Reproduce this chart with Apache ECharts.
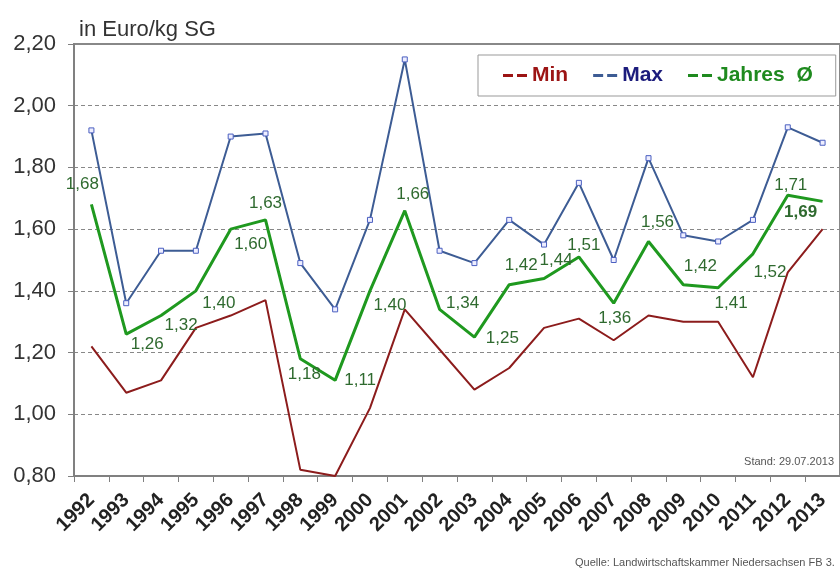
<!DOCTYPE html>
<html>

<head>
    <meta charset="UTF-8">
    <title>Schweinepreise Min / Max / Jahresdurchschnitt</title>
    <script src="https://cdn.jsdelivr.net/npm/echarts@6/dist/echarts.min.js"></script>
    <style>
        html, body { margin: 0; padding: 0; background: #fff; }
    </style>
</head>

<body>
    <div id="PreisContainer" style="width: 840px; height: 570px;"></div>

    <script>
        var years = ['1992', '1993', '1994', '1995', '1996', '1997', '1998', '1999', '2000', '2001', '2002',
            '2003', '2004', '2005', '2006', '2007', '2008', '2009', '2010', '2011', '2012', '2013'];

        var minValues = [1.22, 1.07, 1.11, 1.28, 1.32, 1.37, 0.82, 0.80, 1.02, 1.34, 1.21,
            1.08, 1.15, 1.28, 1.31, 1.24, 1.32, 1.30, 1.30, 1.12, 1.46, 1.60];

        var maxValues = [1.92, 1.36, 1.53, 1.53, 1.90, 1.91, 1.49, 1.34, 1.63, 2.15, 1.53,
            1.49, 1.63, 1.55, 1.75, 1.50, 1.83, 1.58, 1.56, 1.63, 1.93, 1.88];

        var avgValues = [1.68, 1.26, 1.32, 1.40, 1.60, 1.63, 1.18, 1.11, 1.40, 1.66, 1.34,
            1.25, 1.42, 1.44, 1.51, 1.36, 1.56, 1.42, 1.41, 1.52, 1.71, 1.69];

        var yMin = 0.8, yMax = 2.2, yStep = 0.2;

        function komma(v) {
            return Number(v).toFixed(2).replace('.', ',');
        }

        // where each Jahres-Ø label sits relative to its point (px)
        var avgLabelShift = [[-9, -20], [21, 10], [20, 10], [23, 12], [20, 15], [0, -17], [4, 16], [25, 0],
            [20, 14], [8, -16], [23, -6], [28, 1], [12, -19], [12, -18], [5, -12], [1, 15], [9, -19],
            [17, -18], [13, 16], [17, 18], [3, -10], [-22, 11]];

        var avgData = avgValues.map(function (v, i) {
            var item = {
                value: v,
                label: { offset: avgLabelShift[i] }
            };
            if (i === avgValues.length - 1) item.label.fontWeight = 'bold';
            return item;
        });

        var myChart = echarts.init(document.getElementById('PreisContainer'), null, { renderer: 'canvas' });

        var dashIcon = 'path://M0,0h10v3h-10z M14,0h10v3h-10z';

        option = {
            animation: false,
            textStyle: { fontFamily: 'Liberation Sans, Arial, sans-serif' },
            title: {
                text: 'in Euro/kg SG',
                left: 74,
                top: 14,
                textStyle: { fontSize: 22, fontWeight: 'normal', color: '#333' }
            },
            legend: {
                left: 478,
                top: 55,
                padding: [10, 23, 10, 25],
                itemGap: 25,
                itemWidth: 24,
                itemHeight: 4,
                borderColor: '#999',
                borderWidth: 1,
                backgroundColor: '#fff',
                textStyle: { fontSize: 21, fontWeight: 'bold' },
                data: [
                    { name: 'Min', icon: dashIcon, itemStyle: { color: '#9c1414', borderWidth: 0 }, textStyle: { color: '#9c1414' } },
                    { name: 'Max', icon: dashIcon, itemStyle: { color: '#3d5c94', borderWidth: 0 }, textStyle: { color: '#1c1c7c' } },
                    { name: 'Jahres  Ø', icon: dashIcon, itemStyle: { color: '#1f8a1f', borderWidth: 0 }, textStyle: { color: '#1f8a1f' } }
                ]
            },
            grid: {
                left: 74,
                top: 44,
                width: 770,
                bottom: 94,
                show: true,
                borderColor: '#888',
                borderWidth: 2
            },
            xAxis: {
                type: 'category',
                boundaryGap: true,
                data: years,
                axisLine: { lineStyle: { color: '#808080', width: 2 } },
                axisTick: { show: true, length: 6, lineStyle: { color: '#808080' } },
                axisLabel: {
                    rotate: 45,
                    interval: 0,
                    margin: 21,
                    fontSize: 20,
                    fontWeight: 'bold',
                    color: '#222'
                }
            },
            yAxis: {
                type: 'value',
                min: yMin,
                max: yMax,
                interval: yStep,
                axisLine: { show: true, lineStyle: { color: '#808080', width: 2 } },
                axisTick: { show: true, length: 6, lineStyle: { color: '#808080' } },
                axisLabel: {
                    fontSize: 22,
                    color: '#333',
                    margin: 18,
                    formatter: komma
                },
                splitLine: {
                    show: true,
                    lineStyle: { color: '#888', type: [4, 3], width: 1 }
                }
            },
            series: [
                {
                    name: 'Min',
                    type: 'line',
                    data: minValues,
                    symbol: 'none',
                    lineStyle: { color: '#8c1c1c', width: 2 },
                    itemStyle: { color: '#8c1c1c' },
                    z: 2
                },
                {
                    name: 'Max',
                    type: 'line',
                    data: maxValues,
                    symbol: 'rect',
                    symbolSize: 5,
                    lineStyle: { color: '#3d5c94', width: 2 },
                    itemStyle: { color: '#eef', borderColor: '#4a5fc0', borderWidth: 1 },
                    z: 3
                },
                {
                    name: 'Jahres  Ø',
                    type: 'line',
                    data: avgData,
                    symbol: 'circle',
                    symbolSize: 0.1,
                    lineStyle: { color: '#1f991f', width: 3 },
                    itemStyle: { color: '#1f991f' },
                    label: {
                        show: true,
                        position: 'inside',
                        align: 'center',
                        verticalAlign: 'middle',
                        fontSize: 17,
                        color: '#2f6a2f',
                        formatter: function (p) { return komma(p.value); }
                    },
                    z: 4
                }
            ],
            graphic: [
                {
                    type: 'text',
                    right: 6,
                    top: 456,
                    style: { text: 'Stand: 29.07.2013', fontSize: 11, fill: '#555', fontFamily: 'Liberation Sans, Arial, sans-serif' }
                },
                {
                    type: 'text',
                    left: 575,
                    top: 557,
                    style: { text: 'Quelle: Landwirtschaftskammer Niedersachsen FB 3.', fontSize: 11, fill: '#555', fontFamily: 'Liberation Sans, Arial, sans-serif' }
                }
            ]
        };

        myChart.setOption(option);
    </script>
</body>

</html>
